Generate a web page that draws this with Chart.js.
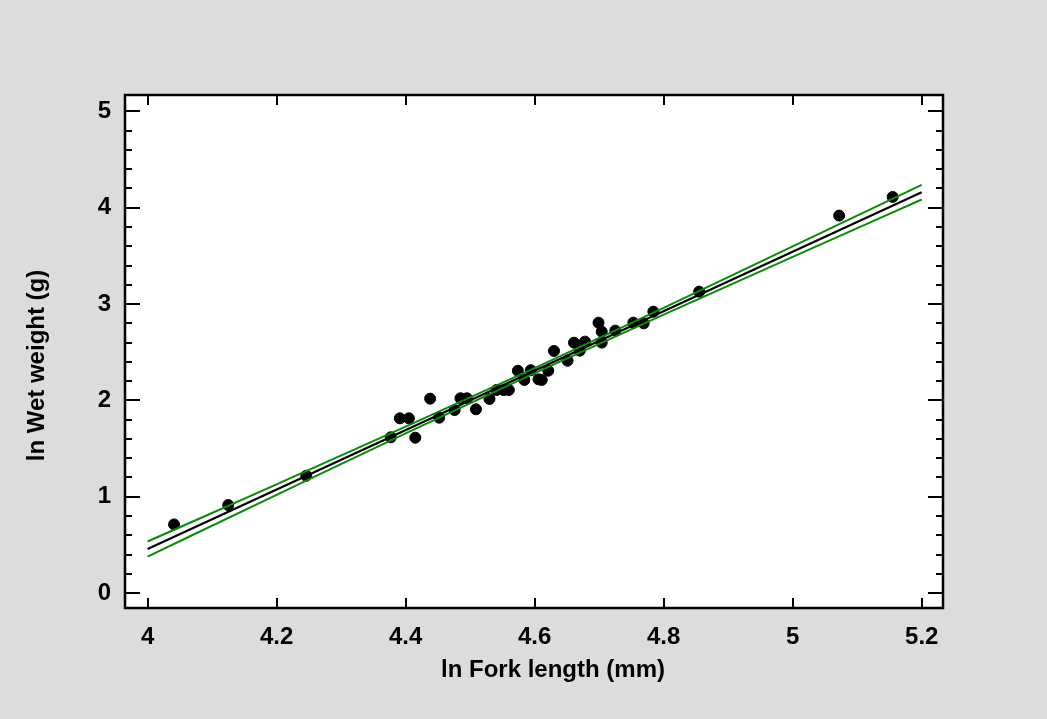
<!DOCTYPE html>
<html>
<head>
<meta charset="utf-8">
<script src="https://cdn.jsdelivr.net/npm/chart.js@4.4.0/dist/chart.umd.min.js"></script>
<style>
  html, body { margin: 0; padding: 0; background: #DCDCDC; }
  #wrap { width: 1047px; height: 719px; position: relative; }
</style>
</head>
<body>
<div id="wrap"><canvas id="c" width="1047" height="719"></canvas></div>
<script>
// ---- data ----
const lnForkLength = [4.041,4.125,4.246,4.377,4.391,4.405,4.415,4.438,4.452,4.476,4.485,4.495,4.509,4.530,4.541,4.552,4.560,4.574,4.584,4.594,4.606,4.611,4.621,4.630,4.651,4.661,4.670,4.678,4.699,4.704,4.704,4.725,4.753,4.769,4.784,4.855,5.072,5.155];
const lnWetWeight  = [0.713,0.914,1.218,1.617,1.814,1.814,1.613,2.018,1.820,1.900,2.022,2.022,1.908,2.015,2.108,2.108,2.108,2.308,2.212,2.313,2.219,2.212,2.308,2.513,2.412,2.599,2.516,2.610,2.807,2.713,2.600,2.724,2.807,2.800,2.921,3.129,3.918,4.112];

const fitX = [4.0, 5.2];
const fitY = [0.457, 4.161];

const bandX     = [4.0, 4.2, 4.4, 4.6, 4.8, 5.0, 5.2];
const bandUpper = [0.535, 1.129, 1.727, 2.335, 2.961, 3.599, 4.237];
const bandLower = [0.379, 1.019, 1.657, 2.283, 2.891, 3.489, 4.085];

const xTickValues = [4.0, 4.2, 4.4, 4.6, 4.8, 5.0, 5.2];
const xTickLabels = ['4', '4.2', '4.4', '4.6', '4.8', '5', '5.2'];
const yTickValues = [0, 1, 2, 3, 4, 5];
const yTickLabels = ['0', '1', '2', '3', '4', '5'];

const xTitle = 'ln Fork length (mm)';
const yTitle = 'ln Wet weight (g)';

// ---- build ----
const toXY = (xs, ys) => xs.map((x, i) => ({ x: x, y: ys[i] }));
const FONT = "'Liberation Sans', Arial, sans-serif";
const TICK_FONT = { family: FONT, size: 24, weight: 'bold' };

const framePlugin = {
  id: 'frame',
  beforeDraw(chart) {
    const { ctx, chartArea: a } = chart;
    ctx.save();
    ctx.fillStyle = '#FFFFFF';
    ctx.fillRect(a.left, a.top, a.right - a.left, a.bottom - a.top);
    ctx.restore();
  },
  afterDraw(chart) {
    const { ctx, chartArea: a, scales } = chart;
    const xs = scales.x, ys = scales.y;
    ctx.save();
    ctx.strokeStyle = '#000';
    ctx.lineWidth = 2;
    ctx.beginPath();
    xTickValues.forEach(v => {
      const px = Math.round(xs.getPixelForValue(v));
      ctx.moveTo(px, a.bottom); ctx.lineTo(px, a.bottom - 10);
      ctx.moveTo(px, a.top); ctx.lineTo(px, a.top + 10);
    });
    for (let k = 0; k <= 25; k++) {
      const v = k * 0.2;
      const py = Math.round(ys.getPixelForValue(v));
      const len = (k % 5 === 0) ? 15 : 7;
      ctx.moveTo(a.left, py); ctx.lineTo(a.left + len, py);
      ctx.moveTo(a.right, py); ctx.lineTo(a.right - len, py);
    }
    ctx.stroke();
    ctx.lineWidth = 2.5;
    ctx.strokeRect(a.left, a.top, a.right - a.left, a.bottom - a.top);

    // axis titles
    ctx.fillStyle = '#000';
    ctx.font = "bold 24px " + FONT;
    ctx.textAlign = 'center';
    ctx.textBaseline = 'middle';
    ctx.fillText(xTitle, (a.left + a.right) / 2 + 19, 670);
    ctx.translate(37, (a.top + a.bottom) / 2 + 14);
    ctx.rotate(-Math.PI / 2);
    ctx.fillText(yTitle, 0, 0);
    ctx.restore();
  }
};

new Chart(document.getElementById('c'), {
  type: 'scatter',
  data: {
    datasets: [
      {
        label: 'Observations',
        data: toXY(lnForkLength, lnWetWeight),
        backgroundColor: '#000',
        borderColor: '#000',
        pointRadius: 5.5,
        pointHoverRadius: 5.5,
        order: 3
      },
      {
        label: 'Fit',
        type: 'line',
        data: toXY(fitX, fitY),
        borderColor: '#000',
        borderWidth: 2.2,
        pointRadius: 0,
        fill: false,
        tension: 0,
        order: 1
      },
      {
        label: 'Upper',
        type: 'line',
        data: toXY(bandX, bandUpper),
        borderColor: '#0A8A0A',
        borderWidth: 2,
        pointRadius: 0,
        fill: false,
        cubicInterpolationMode: 'monotone',
        order: 2
      },
      {
        label: 'Lower',
        type: 'line',
        data: toXY(bandX, bandLower),
        borderColor: '#0A8A0A',
        borderWidth: 2,
        pointRadius: 0,
        fill: false,
        cubicInterpolationMode: 'monotone',
        order: 2
      }
    ]
  },
  options: {
    responsive: false,
    animation: false,
    events: [],
    layout: { padding: { top: 95, right: 104, left: 0, bottom: 0 } },
    plugins: { legend: { display: false }, tooltip: { enabled: false } },
    scales: {
      x: {
        type: 'linear',
        position: 'bottom',
        min: 3.965,
        max: 5.233,
        afterBuildTicks: s => { s.ticks = xTickValues.map(v => ({ value: v })); },
        afterFit: s => { s.height = 111; },
        grid: { display: false, drawTicks: false },
        border: { display: false },
        ticks: {
          padding: 15,
          color: '#000',
          maxRotation: 0,
          autoSkip: false,
          font: TICK_FONT,
          callback: (v) => { const i = xTickValues.findIndex(t => Math.abs(t - v) < 1e-9); return i >= 0 ? xTickLabels[i] : ''; }
        },
        title: { display: false }
      },
      y: {
        type: 'linear',
        position: 'left',
        min: -0.155,
        max: 5.17,
        afterBuildTicks: s => { s.ticks = yTickValues.map(v => ({ value: v })); },
        afterFit: s => { s.width = 125; },
        grid: { display: false, drawTicks: false },
        border: { display: false },
        ticks: {
          padding: 14,
          color: '#000',
          autoSkip: false,
          font: TICK_FONT,
          callback: (v) => { const i = yTickValues.findIndex(t => Math.abs(t - v) < 1e-9); return i >= 0 ? yTickLabels[i] : ''; }
        },
        title: { display: false }
      }
    }
  },
  plugins: [framePlugin]
});
</script>
</body>
</html>
